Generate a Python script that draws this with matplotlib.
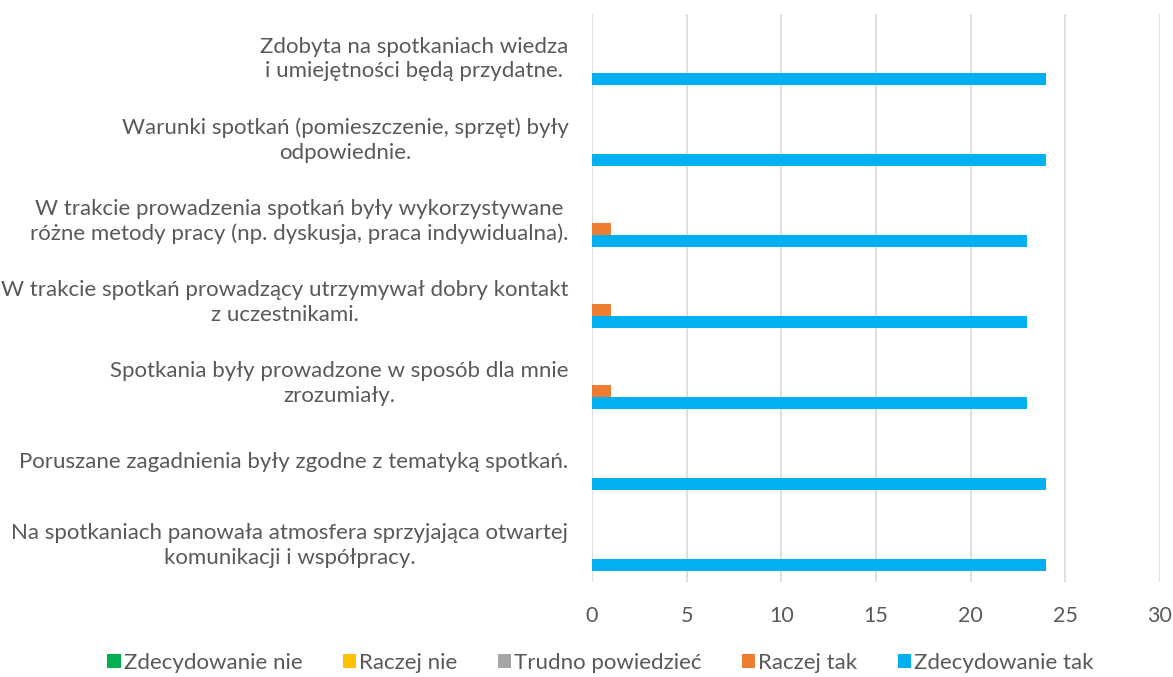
import matplotlib.pyplot as plt
import numpy as np

# categories from bottom to top (as in the chart)
categories = [
    'Na spotkaniach panowała atmosfera sprzyjająca otwartej\nkomunikacji i współpracy.',
    'Poruszane zagadnienia były zgodne z tematyką spotkań.',
    'Spotkania były prowadzone w sposób dla mnie\nzrozumiały.',
    'W trakcie spotkań prowadzący utrzymywał dobry kontakt\nz uczestnikami.',
    'W trakcie prowadzenia spotkań były wykorzystywane\nróżne metody pracy (np. dyskusja, praca indywidualna).',
    'Warunki spotkań (pomieszczenie, sprzęt) były\nodpowiednie.',
    'Zdobyta na spotkaniach wiedza\ni umiejętności będą przydatne.',
]

series_names = ['Zdecydowanie nie', 'Raczej nie', 'Trudno powiedzieć', 'Raczej tak', 'Zdecydowanie tak']
zdecydowanie_nie = [0, 0, 0, 0, 0, 0, 0]
raczej_nie = [0, 0, 0, 0, 0, 0, 0]
trudno = [0, 0, 0, 0, 0, 0, 0]
raczej_tak = [0, 0, 1, 1, 1, 0, 0]
zdecydowanie_tak = [24, 24, 23, 23, 23, 24, 24]

colors = ['#00B050', '#FFC000', '#A5A5A5', '#ED7D31', '#00B0F0']
values = [zdecydowanie_nie, raczej_nie, trudno, raczej_tak, zdecydowanie_tak]

plt.rcParams['font.family'] = ['Lato', 'DejaVu Sans']
text_color = '#595959'

fig = plt.figure(figsize=(11.73, 6.77), dpi=100)
ax = fig.add_axes([592 / 1173, 1 - 582 / 677, 568 / 1173, 568 / 677])

y = np.arange(len(categories))
h = 1 / 6.75
for k in range(5):
    ax.barh(y + (2 - k) * h, values[k], height=h, color=colors[k],
            label=series_names[k], linewidth=0, zorder=3)

ax.set_xlim(0, 30)
ax.set_ylim(-0.5, len(categories) - 0.5)
ax.set_xticks(range(0, 31, 5))
ax.set_yticks(y)
ax.set_yticklabels(categories, multialignment='center', linespacing=1.3)
ax.tick_params(axis='y', length=0, labelsize=16, colors=text_color, pad=17)
ax.tick_params(axis='x', length=0, labelsize=15.5, colors=text_color, pad=17)
ax.grid(axis='x', color='#D9D9D9', linewidth=1.2, zorder=0)
for s in ax.spines.values():
    s.set_visible(False)

handles, labels = ax.get_legend_handles_labels()
fig.legend(handles, labels, loc='center', bbox_to_anchor=(0.512, 1 - 663 / 677),
           ncol=5, frameon=False, fontsize=16, handlelength=0.6, handleheight=0.6,
           handletextpad=0.15, columnspacing=1.8, labelcolor=text_color)

plt.savefig('out.png')
